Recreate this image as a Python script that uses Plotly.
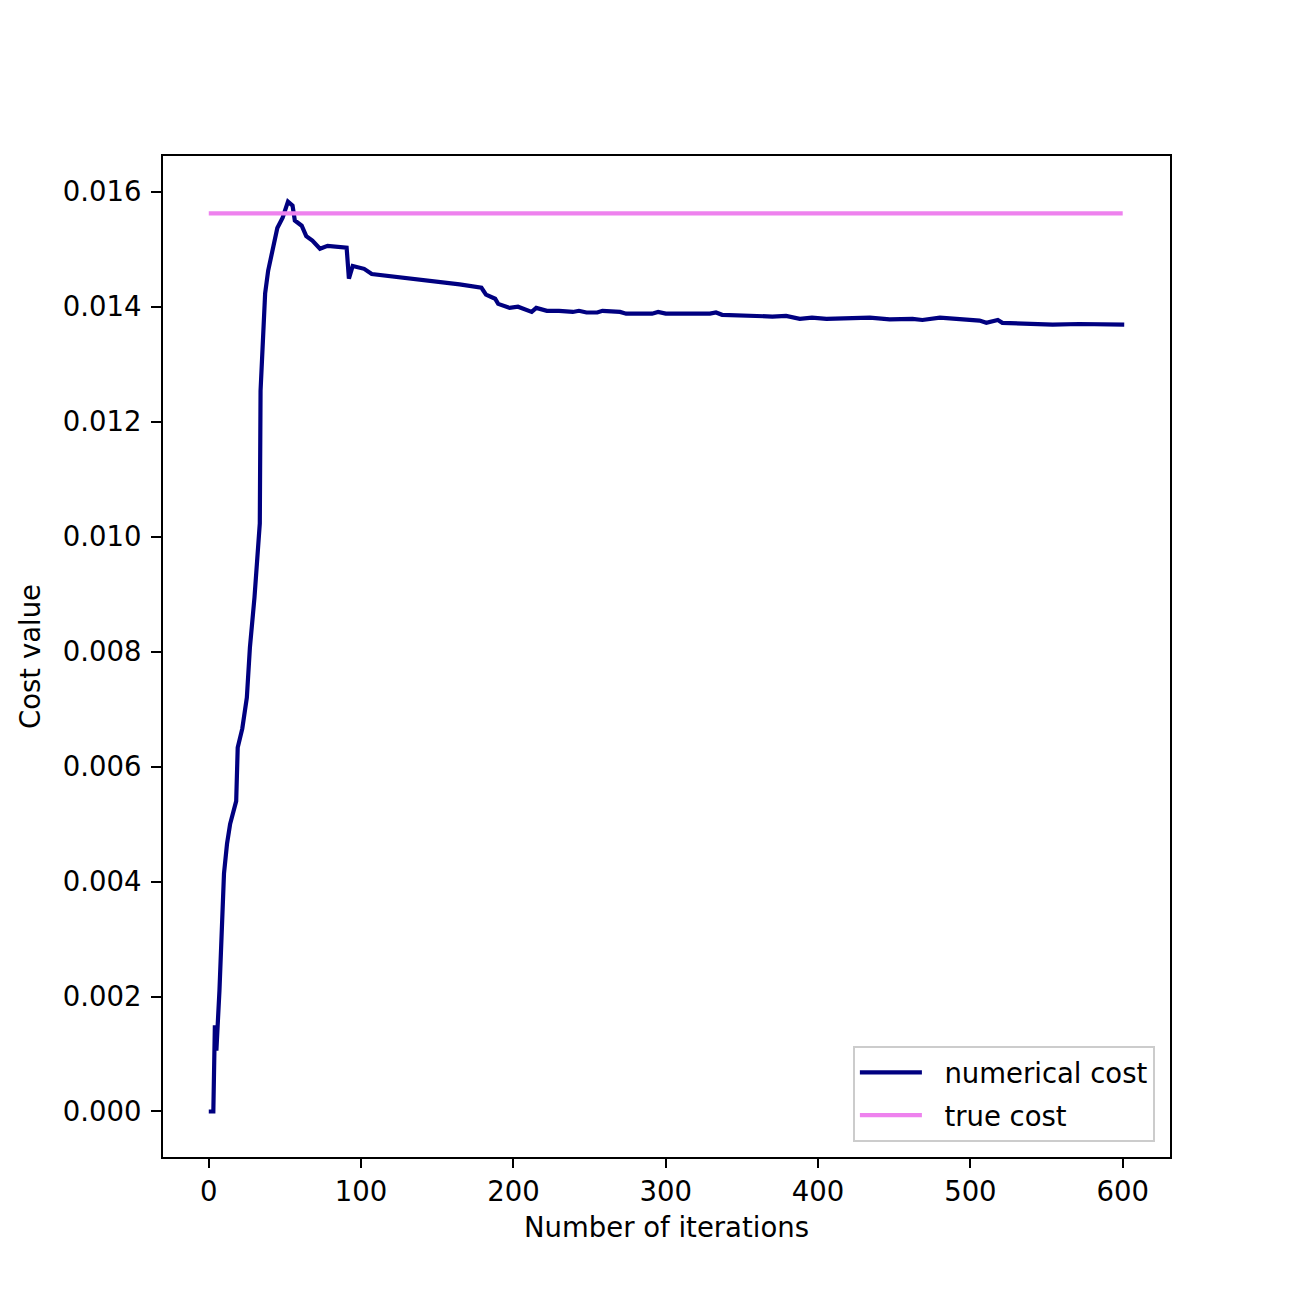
import plotly.graph_objects as go

# Numerical cost readings (iteration, cost value)
iterations = [0, 3, 4, 5, 6, 7, 10, 12, 14, 18, 19, 22, 25, 27, 30, 31.5, 33.5, 34, 35.5, 37, 39, 42, 45,
              48.5, 52, 55, 56.5, 61, 64, 68, 73, 78, 90.5, 92, 94.5, 102, 107, 164.7, 179, 182, 188, 190,
              197.5, 203, 212, 215, 222, 230, 239, 243, 248, 255, 258.5, 270, 274, 281, 291, 295, 300,
              329, 333, 337, 370, 379, 388, 396, 405.5, 434, 447, 462, 468.5, 480, 506, 510.5, 518, 521,
              539, 554, 571.5, 601]
cost = [0.0, 0.0, 0.0015, 0.00106, 0.00158, 0.0021, 0.00414, 0.00466, 0.0050, 0.0054, 0.00633, 0.00666,
        0.0072, 0.00807, 0.00894, 0.00958, 0.01023, 0.01254, 0.01323, 0.01423, 0.01463, 0.01503, 0.01537,
        0.01555, 0.01583, 0.01576, 0.0155, 0.01541, 0.01523, 0.01515, 0.01501, 0.01506, 0.01503, 0.01449,
        0.01471, 0.01466, 0.01457, 0.01439, 0.01433, 0.01421, 0.01414, 0.01405,
        0.01398, 0.01400, 0.01391, 0.01398, 0.01393, 0.01393, 0.01391, 0.01393, 0.01390, 0.01390, 0.01393,
        0.01391, 0.01388, 0.01388, 0.01388, 0.01391, 0.01388,
        0.01388, 0.01390, 0.01386, 0.01383, 0.01384, 0.01379, 0.01381, 0.01379, 0.01381, 0.01378, 0.01379,
        0.01377, 0.01381, 0.01376, 0.01372, 0.01377, 0.01372, 0.01370, 0.01369, 0.01370, 0.01369]

true_cost_x = [0, 600]
true_cost_value = 0.015625

x_ticks = [0, 100, 200, 300, 400, 500, 600]
y_ticks = [0.000, 0.002, 0.004, 0.006, 0.008, 0.010, 0.012, 0.014, 0.016]

PAD = "\u00a0\u00a0"

fig = go.Figure()
fig.add_trace(go.Scatter(x=iterations, y=cost, mode="lines", name=PAD + "numerical cost", legendgroup="a",
                         line=dict(color="#000080", width=4.2)))
fig.add_trace(go.Scatter(x=true_cost_x, y=[true_cost_value] * len(true_cost_x), mode="lines",
                         name=PAD + "true cost", legendgroup="b", line=dict(color="#EE82EE", width=4.2)))

font = dict(family="DejaVu Sans", size=27.5, color="black")
fig.update_layout(
    width=1300, height=1300, autosize=False,
    margin=dict(l=155, r=138, t=148, b=151),
    paper_bgcolor="white", plot_bgcolor="white",
    font=font,
    showlegend=True,
    legend=dict(x=0.985, y=0.015, xanchor="right", yanchor="bottom",
                bgcolor="rgba(255,255,255,0.8)", bordercolor="#cccccc", borderwidth=2,
                font=font, itemwidth=62, tracegroupgap=4),
)
fig.update_xaxes(range=[-30.05, 631.05], tickvals=x_ticks, ticktext=[str(v) for v in x_ticks],
                 showgrid=False, zeroline=False, showline=True, linecolor="black", linewidth=2,
                 mirror=True, ticks="outside", ticklen=9, tickwidth=2, tickcolor="black",
                 ticklabelstandoff=0,
                 title=dict(text="Number of iterations", font=font, standoff=12))
fig.update_yaxes(range=[-0.000792, 0.016623], tickvals=y_ticks, ticktext=[f"{v:.3f}" for v in y_ticks],
                 showgrid=False, zeroline=False, showline=True, linecolor="black", linewidth=2,
                 mirror=True, ticks="outside", ticklen=10, tickwidth=2, tickcolor="black",
                 ticklabelstandoff=4,
                 title=dict(text="Cost value", font=font, standoff=14))

fig.write_html("out.html")
